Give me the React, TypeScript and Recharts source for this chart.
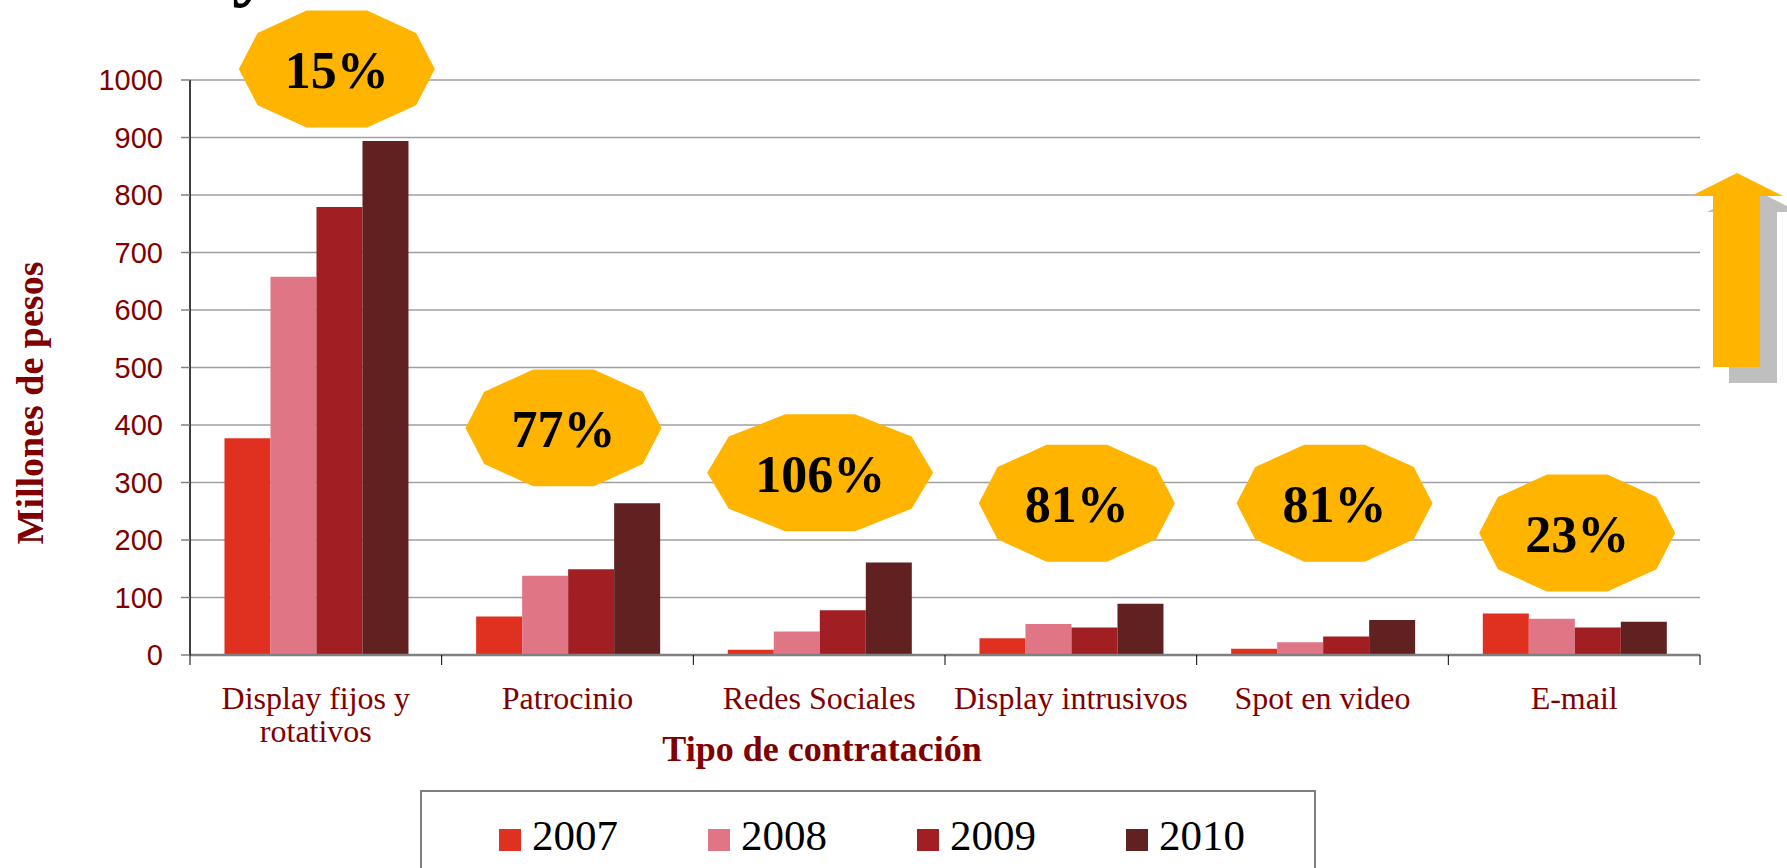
import React from "react";
import { BarChart, Bar, XAxis, YAxis, CartesianGrid, ReferenceDot } from "recharts";

// ---- data (millones de pesos) ----
const categories = [
  "Display fijos y\nrotativos",
  "Patrocinio",
  "Redes Sociales",
  "Display intrusivos",
  "Spot en video",
  "E-mail",
];
const years = ["2007", "2008", "2009", "2010"];
const v2007 = [377, 67, 9, 29, 11, 72];
const v2008 = [658, 138, 41, 54, 22, 63];
const v2009 = [779, 149, 78, 48, 32, 48];
const v2010 = [894, 264, 161, 89, 61, 58];
const yTicks = [0, 100, 200, 300, 400, 500, 600, 700, 800, 900, 1000];

// growth badges: label and the level (in axis units) they float at
const badgeLabels = ["15%", "77%", "106%", "81%", "81%", "23%"];
const badgeLevels = [1019, 395, 317, 264, 264, 212];

// ---- look ----
const W = 1787;
const H = 868;
const PLOT_W = 1510;
const BAND = PLOT_W / categories.length;
const DARK_RED = "#800000";
const YELLOW = "#FFB400";
const COLORS: Record<string, string> = {
  "2007": "#E0301F",
  "2008": "#E07585",
  "2009": "#A11F22",
  "2010": "#622121",
};
// badges aren't perfectly centred on their category in the original slide
const BADGE_DX = [21, -4, 1, 6, 12, 3];

const data = categories.map((name, i) => ({
  name,
  "2007": v2007[i],
  "2008": v2008[i],
  "2009": v2009[i],
  "2010": v2010[i],
}));

function CategoryTick(props: any) {
  const { x, y, payload, index } = props;
  const lines = String(payload.value).split("\n");
  const half = BAND / 2;
  return (
    <g>
      <line x1={x - half} x2={x - half} y1={y} y2={y + 10} stroke="#000" strokeWidth={1} />
      {index === categories.length - 1 && (
        <line x1={x + half} x2={x + half} y1={y} y2={y + 10} stroke="#000" strokeWidth={1} />
      )}
      <text
        x={x}
        y={y + 54}
        textAnchor="middle"
        fill={DARK_RED}
        fontSize={32}
        fontFamily="'Liberation Serif', serif"
      >
        {lines.map((l, i) => (
          <tspan key={i} x={x} dy={i === 0 ? 0 : 33}>
            {l}
          </tspan>
        ))}
      </text>
    </g>
  );
}

// ten-sided badge, like the PowerPoint "decagon" autoshape
function Badge({ cx, cy, label, dx }: { cx: number; cy: number; label: string; dx: number }) {
  const rx = label.length > 3 ? 113 : 98;
  const ry = 61.5;
  const x0 = cx + dx;
  const pts = Array.from({ length: 10 }, (_, k) => {
    const a = (k * 36 * Math.PI) / 180;
    return `${x0 + rx * Math.cos(a)},${cy + ry * Math.sin(a)}`;
  }).join(" ");
  return (
    <g>
      <polygon points={pts} fill={YELLOW} />
      <text
        x={x0}
        y={cy + 19}
        textAnchor="middle"
        fontSize={52}
        fontWeight="bold"
        fontFamily="'Liberation Serif', serif"
        fill="#000"
      >
        {label}
      </text>
    </g>
  );
}

function Legend() {
  return (
    <div
      style={{
        position: "absolute",
        left: 420,
        top: 790,
        width: 896,
        height: 120,
        border: "2px solid #7f7f7f",
        background: "#fff",
        boxSizing: "border-box",
      }}
    >
      {years.map((yr, i) => (
        <div
          key={yr}
          style={{
            position: "absolute",
            left: 77 + i * 209,
            top: 25,
            display: "flex",
            alignItems: "flex-end",
          }}
        >
          <span style={{ width: 22, height: 22, background: COLORS[yr], display: "inline-block", marginBottom: 4 }} />
          <span
            style={{
              marginLeft: 11,
              fontSize: 43,
              lineHeight: "38px",
              fontFamily: "'Liberation Serif', serif",
              color: "#000",
            }}
          >
            {yr}
          </span>
        </div>
      ))}
    </div>
  );
}

export default function App() {
  return (
    <div style={{ position: "absolute", left: 0, top: 0, width: W, height: H, overflow: "hidden", background: "#fff" }}>
      <BarChart
        width={W}
        height={H}
        data={data}
        margin={{ top: 80, right: 87, bottom: 0, left: 0 }}
        barCategoryGap="13.7%"
        barGap={0}
      >
        <CartesianGrid vertical={false} stroke="#a0a0a0" strokeWidth={1.5} />
        <XAxis
          dataKey="name"
          height={213}
          interval={0}
          tickLine={false}
          tickSize={0}
          tickMargin={0}
          axisLine={{ stroke: "#808080", strokeWidth: 2.5 }}
          tick={<CategoryTick />}
          label={() => (
            <text
              x={822}
              y={761}
              textAnchor="middle"
              fill={DARK_RED}
              fontSize={36}
              fontWeight="bold"
              fontFamily="'Liberation Serif', serif"
            >
              Tipo de contratación
            </text>
          )}
        />
        <YAxis
          width={190}
          domain={[0, 1000]}
          ticks={yTicks}
          interval={0}
          tickSize={9}
          tickMargin={18}
          tickLine={{ stroke: "#808080", strokeWidth: 1.5 }}
          axisLine={{ stroke: "#000", strokeWidth: 1.5 }}
          tick={{ fill: DARK_RED, fontSize: 29, fontFamily: "'Liberation Sans', Arial, sans-serif" }}
          label={() => (
            <text
              x={43}
              y={403}
              transform="rotate(-90, 43, 403)"
              textAnchor="middle"
              fill={DARK_RED}
              fontSize={38}
              fontWeight="bold"
              fontFamily="'Liberation Serif', serif"
            >
              Millones de pesos
            </text>
          )}
        />
        {years.map((yr) => (
          <Bar key={yr} dataKey={yr} fill={COLORS[yr]} isAnimationActive={false} />
        ))}
        {categories.map((c, i) => (
          <ReferenceDot
            key={c}
            x={c}
            y={badgeLevels[i]}
            ifOverflow="visible"
            shape={(p: any) => <Badge cx={p.cx} cy={p.cy} label={badgeLabels[i]} dx={BADGE_DX[i]} />}
          />
        ))}
      </BarChart>

      {/* decorative growth arrow and the clipped title letter of the slide */}
      <svg width={W} height={H} style={{ position: "absolute", left: 0, top: 0, pointerEvents: "none" }}>
        <text x={232} y={-9} fontSize={80} fontWeight="bold" fontFamily="'Liberation Serif', serif" fill="#000">
          y
        </text>
        <polygon
          points="1729,383 1729,212 1707,212 1753,189 1799,212 1777,212 1777,383"
          fill="#bfbfbf"
        />
        <polygon
          points="1713,367 1713,196 1691,196 1737,173 1783,196 1760,196 1760,367"
          fill={YELLOW}
        />
      </svg>

      <Legend />
    </div>
  );
}
